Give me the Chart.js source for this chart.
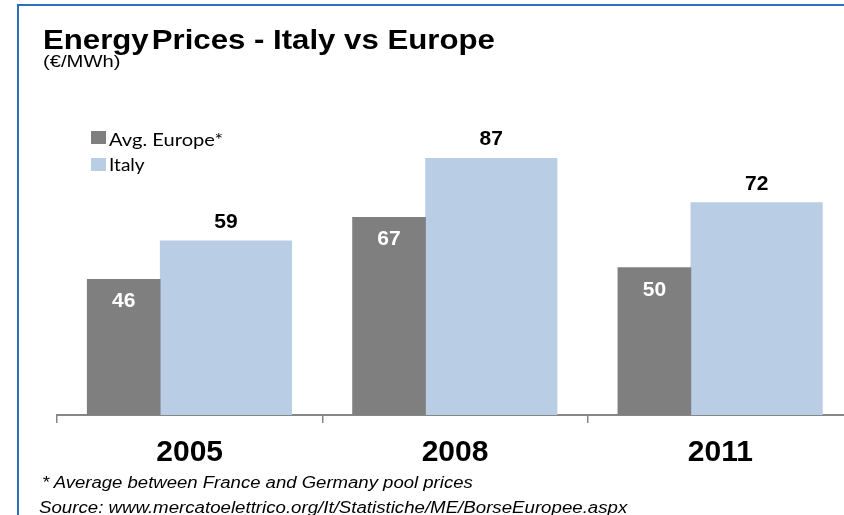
<!DOCTYPE html>
<html>
<head>
<meta charset="utf-8">
<title>Energy Prices - Italy vs Europe</title>
<script src="https://cdn.jsdelivr.net/npm/chart.js@4.4.0/dist/chart.umd.min.js"></script>
<style>
  body { margin: 0; width: 844px; height: 515px; overflow: hidden; background: #fff; position: relative;
         font-family: "Liberation Sans", Arial, sans-serif; }
  #frame { position: absolute; left: 17px; top: 4px; width: 900px; height: 600px;
           border-left: 2px solid #2b70be; border-top: 2px solid #2b70be; }
  #chart { position: absolute; left: 0; top: 0; }
  .txt { position: absolute; white-space: nowrap; line-height: 1; transform-origin: 0 0; color: #000; }
  #title { left: 43px; top: 26px; font-size: 28px; font-weight: bold; }
  #title span { margin-right: -5px; }
  #unit { left: 43px; top: 54px; font-size: 16px; }
  #note { left: 42px; top: 475px; font-size: 16px; font-style: italic; }
  #source { left: 39px; top: 500px; font-size: 16px; font-style: italic; }
  .leg { position: absolute; left: 91px; height: 13px; width: 15px; }
  .legtxt { left: 109px; font-family: Lato, "Open Sans", sans-serif; font-size: 18px; }
</style>
</head>
<body>
<div id="frame"></div>
<canvas id="chart" width="870" height="515"></canvas>
<div class="txt" id="title"><span>Energy</span> Prices - Italy vs Europe</div>
<div class="txt" id="unit">(€/MWh)</div>
<div class="leg" style="top:131px; background:#7f7f7f"></div>
<div class="txt legtxt" id="legEu" style="top:130px">Avg. Europe*</div>
<div class="leg" style="top:158px; background:#b9cde5"></div>
<div class="txt legtxt" id="legIt" style="top:155px">Italy</div>
<div class="txt" id="note">* Average between France and Germany pool prices</div>
<div class="txt" id="source">Source: www.mercatoelettrico.org/It/Statistiche/ME/BorseEuropee.aspx</div>

<script>
// years and prices (€/MWh)
const years = ['2005', '2008', '2011'];
const avgEurope = [46, 67, 50];
const italy = [59, 87, 72];

// the two bars of a year sit a bit left of the year's centre
const GROUP_SHIFT = -0.111;

function stretchTo(id, width) {
    let el = document.getElementById(id);
    el.style.transform = 'scaleX(' + (width / el.offsetWidth) + ')';
}

const valueLabels = {
    id: 'valueLabels',
    afterDatasetsDraw(chart) {
        const ctx = chart.ctx;
        ctx.save();
        ctx.font = 'bold 21px "Liberation Sans", Arial, sans-serif';
        ctx.textAlign = 'center';
        ctx.textBaseline = 'alphabetic';
        chart.data.datasets.forEach((ds, i) => {
            chart.getDatasetMeta(i).data.forEach((bar, j) => {
                const v = ds.data[j].y;
                if (ds.labelInside) {
                    ctx.fillStyle = '#ffffff';
                    ctx.fillText(v, bar.x, bar.y + 28);
                } else {
                    ctx.fillStyle = '#000000';
                    ctx.fillText(v, bar.x, bar.y - 13);
                }
            });
        });
        ctx.restore();
    }
};

function toPoints(values) {
    return values.map((v, i) => ({x: i + GROUP_SHIFT, y: v}));
}

let ctx = document.getElementById('chart').getContext('2d');
let chart = new Chart(ctx, {
    type: 'bar',
    data: {
        labels: years,
        datasets: [{
            label: 'Avg. Europe*',
            data: toPoints(avgEurope),
            xAxisID: 'xb',
            backgroundColor: '#7f7f7f',
            barThickness: 73,
            labelInside: true
        }, {
            label: 'Italy',
            data: toPoints(italy),
            xAxisID: 'xb',
            backgroundColor: '#b9cde5',
            barThickness: 131.5
        }]
    },
    options: {
        responsive: false,
        animation: false,
        devicePixelRatio: 1,
        layout: {padding: {left: 57, right: 17, top: 120, bottom: 40}},
        scales: {
            x: {
                type: 'category',
                position: 'bottom',
                offset: true,
                afterFit: (scale) => { scale.height = 60; },
                grid: {offset: true, drawOnChartArea: false, tickLength: 8, color: '#868686', lineWidth: 1.5},
                border: {display: true, color: '#868686', width: 2},
                ticks: {
                    color: '#000',
                    padding: 12,
                    font: {family: '"Liberation Sans", Arial, sans-serif', size: 30, weight: 'bold'}
                }
            },
            xb: {
                type: 'linear',
                display: false,
                offset: false,
                min: -0.5,
                max: 2.5
            },
            y: {
                display: false,
                min: 0,
                max: 100
            }
        },
        plugins: {
            legend: {display: false},
            tooltip: {enabled: false}
        }
    },
    plugins: [valueLabels]
});

stretchTo('title', 452);
stretchTo('unit', 77);
stretchTo('legEu', 114);
stretchTo('legIt', 36);
stretchTo('note', 431);
stretchTo('source', 588);
</script>
</body>
</html>
